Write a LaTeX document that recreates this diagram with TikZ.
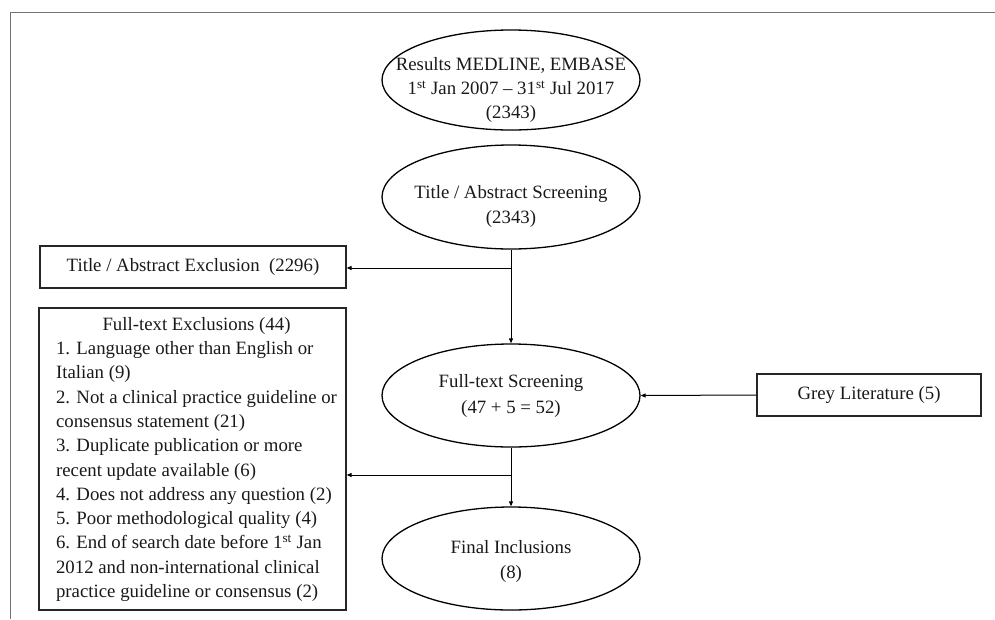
\documentclass[tikz,border=0pt]{standalone}
\usepackage{fontspec}
\setmainfont{Liberation Serif}
\usetikzlibrary{shapes.geometric,arrows.meta}
\newcommand{\elltext}[2][0pt]{\makebox[0pt]{\raisebox{#1}{\begin{tabular}{@{}c@{}}#2\end{tabular}}}}
\begin{document}
\begin{tikzpicture}[x=1pt,y=-1pt,
  every node/.style={font=\fontsize{18.8}{22.5}\selectfont, text=black!90},
  ell/.style={draw=black, ellipse, line width=1.3pt, minimum width=258pt, inner sep=0pt, text height=0pt, text depth=0pt},
  rbox/.style={draw=black!85, rectangle, line width=1.2pt, inner sep=0pt},
  conn/.style={line width=1pt, -{Triangle[length=5pt,width=4pt]}},
  frameline/.style={draw=black!55, line width=1pt}]
\useasboundingbox (0,0) rectangle (995,619);
\draw[frameline] (10,619) -- (10,12) -- (995,12);

\node[ell, minimum height=100pt, font=\fontsize{18.8}{24}\selectfont] (res) at (511,80)
  {\elltext[-14.5pt]{Results MEDLINE,\ EMBASE\\1\textsuperscript{st} Jan 2007 – 31\textsuperscript{st} Jul 2017\\(2343)}};
\node[ell, minimum height=104pt, font=\fontsize{18.8}{25}\selectfont] (tas) at (511,197)
  {\elltext[-13.5pt]{Title / Abstract Screening\\(2343)}};
\node[ell, minimum height=103pt, font=\fontsize{18.8}{26}\selectfont] (fts) at (511,395.5)
  {\elltext[-4.5pt]{Full-text Screening\\(47 + 5 = 52)}};
\node[ell, minimum height=103pt, font=\fontsize{18.8}{25}\selectfont] (fin) at (511,558.5)
  {\elltext[-7pt]{Final Inclusions\\(8)}};

\node[rbox, minimum width=306pt, minimum height=42pt] (tae) at (193,267)
  {Title / Abstract Exclusion\ \ (2296)};
\node[rbox, minimum width=307pt, minimum height=302pt] (fte) at (192.5,459)
  {\def\arraystretch{1.08}\hspace*{8pt}\begin{tabular}{@{}l@{}}
   \multicolumn{1}{@{}c@{}}{Full-text Exclusions (44)}\\
   1. Language other than English or\\
   Italian (9)\\
   2. Not a clinical practice guideline or\\
   consensus statement (21)\\
   3. Duplicate publication or more\\
   recent update available (6)\\
   4. Does not address any question (2)\\
   5. Poor methodological quality (4)\\
   6. End of search date before 1\textsuperscript{st} Jan\\
   2012 and non-international clinical\\
   practice guideline or consensus (2)
   \end{tabular}};
\node[rbox, minimum width=224pt, minimum height=42pt] (grey) at (869,395)
  {Grey Literature (5)};

\coordinate (b1) at (511,268);
\coordinate (b2) at (511,475);
\draw[conn] (tas.south) -- (fts.north);
\draw[conn] (b1) -- (b1 -| tae.east);
\draw[conn] (grey.west) -- (fts.east);
\draw[conn] (fts.south) -- (fin.north);
\draw[conn] (b2) -- (b2 -| fte.east);
\end{tikzpicture}
\end{document}
